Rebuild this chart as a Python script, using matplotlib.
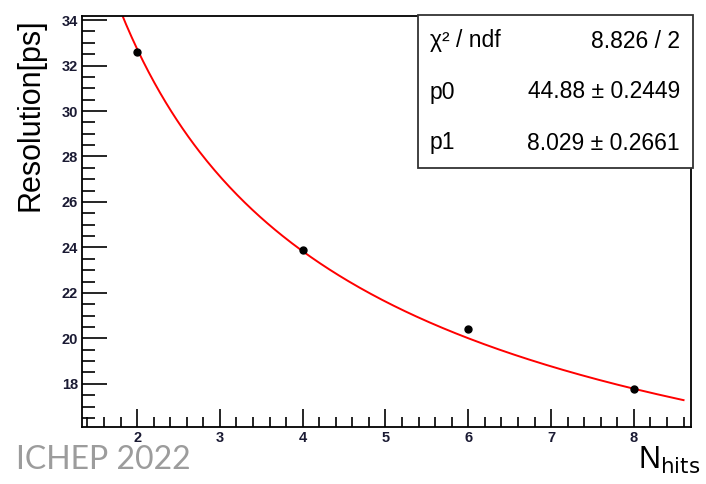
import numpy as np
import matplotlib.pyplot as plt
from matplotlib.ticker import MultipleLocator

# measured points
n_hits = [2, 4, 6, 8]
resolution = [32.58, 23.88, 20.42, 17.77]

# fit parameters from the stats box: sigma = sqrt(p0^2/N + p1^2)
p0, p0_err = 44.88, 0.2449
p1, p1_err = 8.029, 0.2661
chi2_label = "8.826 / 2"
fit_range = (1.8, 8.6)

plt.rcParams['font.family'] = ['Liberation Sans', 'DejaVu Sans']

fig = plt.figure(figsize=(7.06, 4.84), dpi=100)
ax = fig.add_axes([82/706, 1-427/484, 609/706, 411/484])

xf = np.linspace(fit_range[0], fit_range[1], 300)
ax.plot(xf, np.sqrt(p0**2 / xf + p1**2), color='red', lw=1.4, zorder=2)
ax.plot(n_hits, resolution, 'o', color='black', ms=5, zorder=3)

ax.set_xlim(1.335, 8.69)
ax.set_ylim(16.1, 34.18)
ax.xaxis.set_major_locator(MultipleLocator(1))
ax.xaxis.set_minor_locator(MultipleLocator(0.2))
ax.yaxis.set_major_locator(MultipleLocator(2))
ax.yaxis.set_minor_locator(MultipleLocator(0.5))
ax.tick_params(which='both', direction='in', top=False, right=False,
               labelsize=10.5, labelcolor='#1a1a33', width=1.2)
ax.tick_params(axis='y', which='major', length=18, pad=3)
ax.tick_params(axis='y', which='minor', length=9)
ax.tick_params(axis='x', which='major', length=13, pad=3)
ax.tick_params(axis='x', which='minor', length=7)
for lab in ax.get_xticklabels() + ax.get_yticklabels():
    lab.set_fontweight('bold')
for sp in ax.spines.values():
    sp.set_linewidth(1.3)

fig.text(31/706, 1-115/484, "Resolution[ps]", rotation=90, fontsize=22,
         ha='center', va='center')
fig.text(638/706, 1-460/484, r"N$_{\mathrm{hits}}$", fontsize=22,
         ha='left', va='center')
fig.text(16/706, 1-460/484, "ICHEP 2022", fontsize=23, color='#9c9c9c',
         family=['Lato', 'DejaVu Sans'], fontweight='normal', ha='left', va='center')

# stats box
bx0, by0, bx1, by1 = 418/706, 1-168/484, 693/706, 1-15/484
fig.patches.append(plt.Rectangle((bx0, by0), bx1-bx0, by1-by0, transform=fig.transFigure,
                                 facecolor='white', edgecolor='#333333', lw=1.3, zorder=5))
rows = [("χ² / ndf", chi2_label),
        ("p0", f"{p0:.2f} ± {p0_err}"),
        ("p1", f"{p1:.3f} ± {p1_err}")]
for i, (name, val) in enumerate(rows):
    y = 1 - (41 + 51*i)/484
    fig.text(430/706, y, name, fontsize=16.5, ha='left', va='center', zorder=6)
    fig.text(680/706, y, val, fontsize=16.5, ha='right', va='center', zorder=6)

fig.savefig('out.png', dpi=100)
